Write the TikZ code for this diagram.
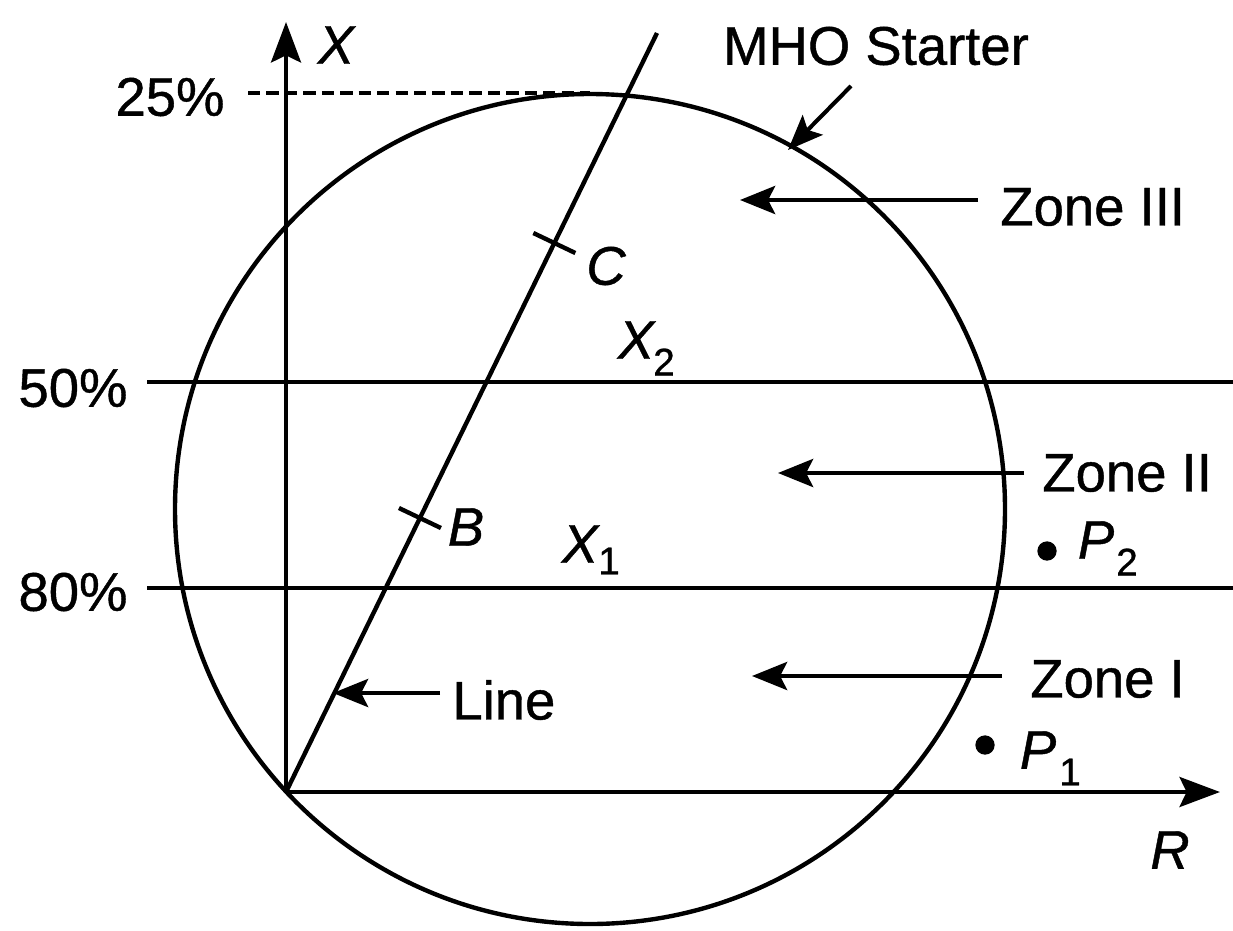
\documentclass[tikz,border=0pt]{standalone}
\usepackage{fontspec}
\setmainfont[FakeBold=0.8,AutoFakeBold=0.8]{Liberation Sans}
\usetikzlibrary{arrows.meta}
\begin{document}
\begin{tikzpicture}[x=0.02cm,y=-0.02cm,
  ln/.style={line width=2.5pt},
  axis/.style={line width=2.5pt,-{Stealth[length=23pt,width=17pt,inset=4pt]}},
  arr/.style={line width=2.3pt,-{Stealth[length=20pt,width=16pt,inset=4pt]}},
  txt/.style={font=\fontsize{31}{36}\selectfont\bfseries, inner sep=0pt},
  sub/.style={font=\fontsize{22}{24}\selectfont\bfseries, inner sep=0pt},
  dot/.style={circle, fill, inner sep=0pt, minimum size=11pt}]
\path[use as bounding box] (0,0) rectangle (1233,930);
% axes and circle
\coordinate (O) at (286,792);
\coordinate (Cc) at (590,509);
\draw[ln] (Cc) circle[radius=415];
\coordinate (Xtip) at (286,22);
\coordinate (Rtip) at (1220,792);
\draw[axis] (O) -- (Xtip);
\draw[axis] (O) -- (Rtip);
% line
\coordinate (Ltop) at (657,33);
\draw[ln] (O) -- (Ltop);
\path (O) -- (Ltop) coordinate[pos=0.361] (B) coordinate[pos=0.7233] (C);
\draw[ln] ([shift={(-21,-10)}]B) -- ([shift={(21,10)}]B);
\draw[ln] ([shift={(-21,-10)}]C) -- ([shift={(21,10)}]C);
% reach lines
\coordinate (d25L) at (248,93);
\coordinate (d25R) at (590,93);
\draw[line width=2.1pt, dash pattern=on 7pt off 3.5pt] (d25L) -- (d25R);
\coordinate (h50L) at (147,382);
\coordinate (h50R) at (1233,382);
\draw[ln] (h50L) -- (h50R);
\coordinate (h80L) at (147,588);
\coordinate (h80R) at (1233,588);
\draw[ln] (h80L) -- (h80R);
% percentage labels
\node[txt] (l25) at (170,97) {25\%};
\node[txt] (l50) at (73,388) {50\%};
\node[txt] (l80) at (73,592) {80\%};
% axis labels
\node[txt] (lX) at (336,45) {\itshape X};
\node[txt] (lR) at (1170,850) {\itshape R};
% points on line
\node[txt] (lC) at (606,266) {\itshape C};
\node[txt] (lB) at (466,527) {\itshape B};
\node[txt] (lX2) at (636,340) {\itshape X};
\node[sub] (lX2s) at (664,362) {2};
\node[txt] (lX1) at (580,544) {\itshape X};
\node[sub] (lX1s) at (609,561) {1};
% MHO starter
\node[txt] (mho) at (876,46) {MHO Starter};
\coordinate (mhoT) at (851,86);
\coordinate (mhoH) at (788,150);
\draw[arr] (mhoT) -- (mhoH);
% zones
\node[txt, anchor=west] (z3) at (1000,207) {Zone III};
\coordinate (z3T) at (978,200);
\coordinate (z3H) at (740,200);
\draw[arr] (z3T) -- (z3H);
\node[txt, anchor=west] (z2) at (1042,473) {Zone II};
\coordinate (z2T) at (1024,473);
\coordinate (z2H) at (778,473);
\draw[arr] (z2T) -- (z2H);
\node[txt, anchor=west] (z1) at (1030,679) {Zone I};
\coordinate (z1T) at (1002,676);
\coordinate (z1H) at (752,676);
\draw[arr] (z1T) -- (z1H);
% line label
\node[txt, anchor=west] (lLine) at (452,700) {Line};
\coordinate (lnT) at (440,693);
\coordinate (lnH) at (333,693);
\draw[arr] (lnT) -- (lnH);
% P points
\node[dot] (p2) at (1047,551) {};
\node[txt] (lP2) at (1096,540) {\itshape P};
\node[sub] (lP2s) at (1127,562) {2};
\node[dot] (p1) at (985,745) {};
\node[txt] (lP1) at (1038,750) {\itshape P};
\node[sub] (lP1s) at (1070,772) {1};
\end{tikzpicture}
\end{document}
